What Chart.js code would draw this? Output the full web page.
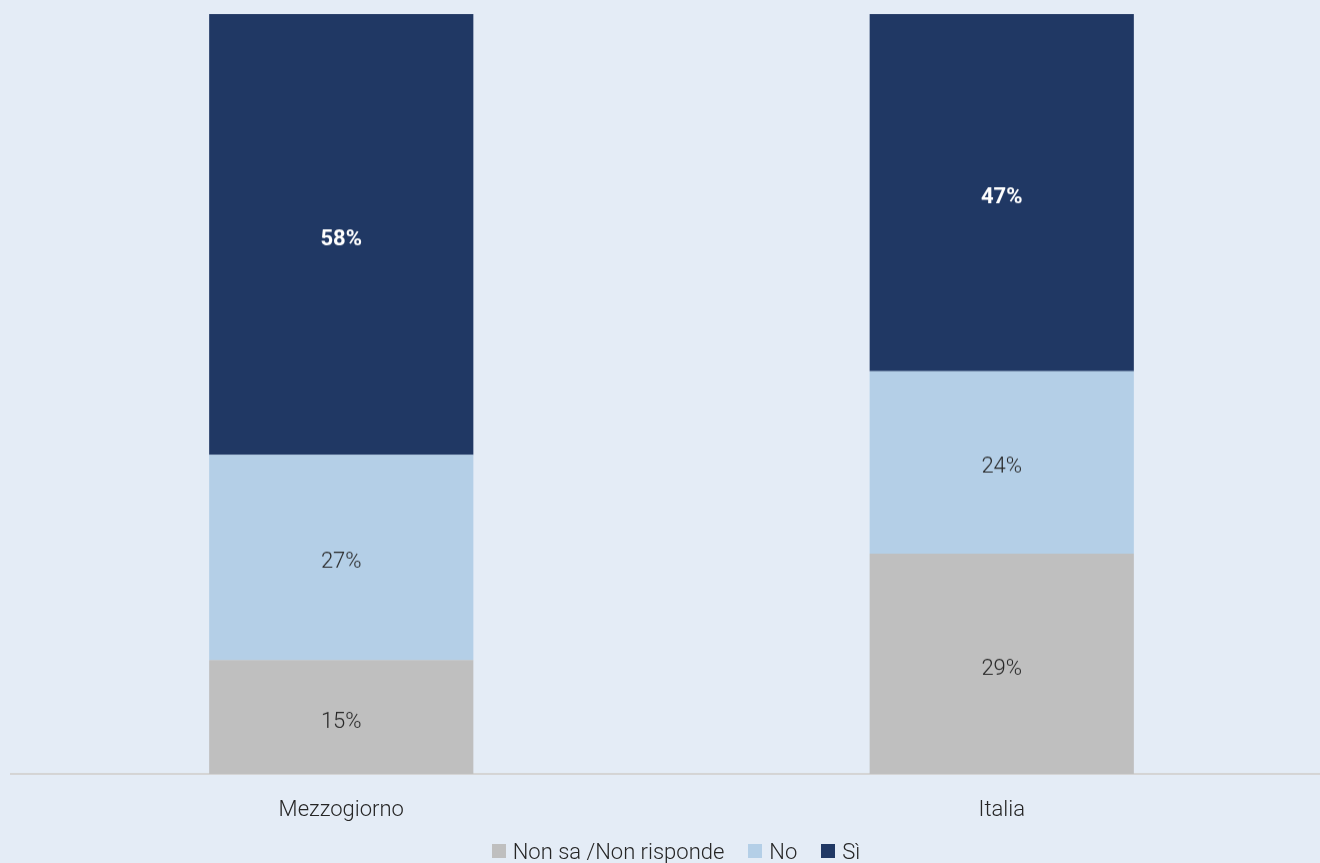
<!DOCTYPE html>
<html><head><meta charset="utf-8">
<script src="https://cdn.jsdelivr.net/npm/chart.js@4/dist/chart.umd.min.js"></script>
<style>
html,body{margin:0;padding:0;background:#e4ecf6;overflow:hidden;}
#wrap{width:1320px;height:863px;overflow:hidden;position:relative;}
#box{width:1332px;height:845.5px;position:absolute;left:0;top:0;}
#legend{position:absolute;left:16px;width:1320px;top:838px;height:26px;display:flex;justify-content:center;align-items:center;font-family:Roboto;font-weight:300;font-size:22px;color:#262626;}
#legend .it{display:flex;align-items:center;margin:0 12px;}
#legend .sw{width:14px;height:14px;margin-right:7px;}
</style></head><body>
<div id="wrap"><div id="box"><canvas id="c"></canvas></div><div id="legend"></div></div>
<script>
const categories = ["Mezzogiorno", "Italia"];
const seriesNames = ["Non sa /Non risponde", "No", "Sì"];
const nonSa = [15, 29];
const no = [27, 24];
const si = [58, 47];
const colors = ["#bfbfbf", "#b4cfe7", "#203864"];

const labelPlugin = {
  id: 'barLabels',
  afterDatasetsDraw(chart) {
    const ctx = chart.ctx;
    chart.data.datasets.forEach((ds, i) => {
      const meta = chart.getDatasetMeta(i);
      meta.data.forEach((bar, j) => {
        const v = ds.data[j];
        const y = (bar.y + bar.base) / 2 + 5;
        ctx.save();
        const bold = i === 2;
        ctx.font = (bold ? 'bold ' : '300 ') + '22px Roboto';
        ctx.fillStyle = bold ? '#ffffff' : '#262626';
        ctx.textAlign = 'center';
        ctx.textBaseline = 'middle';
        ctx.fillText(v + '%', bar.x, y);
        ctx.restore();
      });
    });
  }
};

const chart = new Chart(document.getElementById('c'), {
  type: 'bar',
  data: {
    labels: categories,
    datasets: [
      { label: seriesNames[0], data: nonSa, backgroundColor: colors[0] },
      { label: seriesNames[1], data: no, backgroundColor: colors[1] },
      { label: seriesNames[2], data: si, backgroundColor: colors[2] }
    ]
  },
  options: {
    responsive: true,
    maintainAspectRatio: false,
    animation: false,
    datasets: { bar: { categoryPercentage: 1, barPercentage: 0.4 } },
    layout: { padding: { top: 14, left: 11, right: 0, bottom: 0 } },
    scales: {
      x: {
        stacked: true,
        grid: { display: false, drawTicks: false },
        border: { display: true, color: '#d4d4d4', width: 2 },
        ticks: { color: '#262626', font: { family: 'Roboto', size: 22, weight: '300' }, padding: 23 }
      },
      y: {
        stacked: true, display: false, min: 0, max: 100
      }
    },
    plugins: {
      legend: { display: false },
      tooltip: { enabled: false }
    }
  },
  plugins: [labelPlugin]
});

const lg = document.getElementById('legend');
chart.data.datasets.forEach(ds => {
  const it = document.createElement('div');
  it.className = 'it';
  const sw = document.createElement('span');
  sw.className = 'sw';
  sw.style.background = ds.backgroundColor;
  const tx = document.createElement('span');
  tx.textContent = ds.label;
  it.appendChild(sw); it.appendChild(tx);
  lg.appendChild(it);
});
</script>
</body></html>
